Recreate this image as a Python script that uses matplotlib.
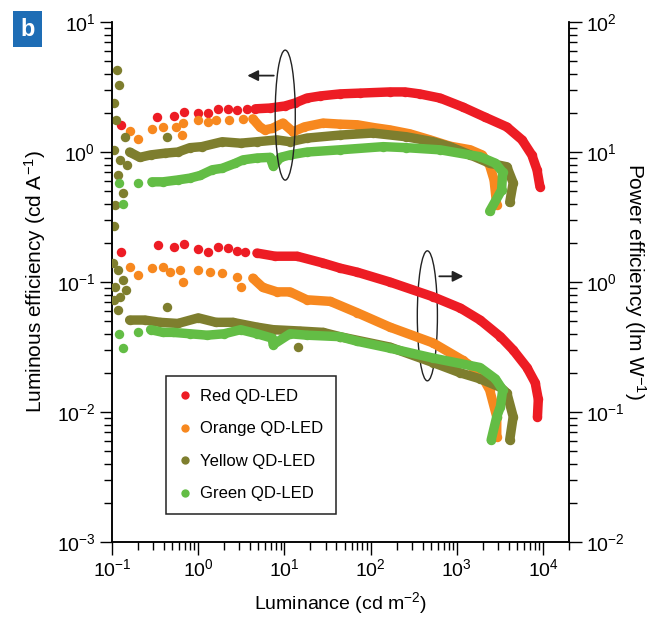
import matplotlib
matplotlib.use("Agg")
import matplotlib.pyplot as plt
from matplotlib.lines import Line2D
from matplotlib.patches import Ellipse, FancyBboxPatch

plt.rcParams["font.family"] = ["Liberation Sans", "DejaVu Sans"]
plt.rcParams["mathtext.fontset"] = "custom"
plt.rcParams["mathtext.rm"] = "Liberation Sans"
plt.rcParams["mathtext.it"] = "Liberation Sans:italic"
plt.rcParams["mathtext.bf"] = "Liberation Sans:bold"

# Luminous efficiency (left axis, cd/A) vs luminance (cd/m2)
red_le_x = [0.127, 0.33, 0.52, 0.69, 1.0, 1.29, 1.7, 2.2, 2.8, 3.7,
            4.6, 6.8, 10.1, 13.2, 18.2, 26, 44, 75, 167, 250, 370, 640,
            1170, 2100, 3800, 5700, 7400, 8500, 9200]
red_le_y = [1.62, 1.86, 1.89, 2.03, 1.99, 1.99, 2.15, 2.15, 2.1, 2.15,
            2.15, 2.18, 2.26, 2.38, 2.60, 2.70, 2.80, 2.84, 2.9, 2.9, 2.8, 2.6,
            2.22, 1.86, 1.56, 1.24, 0.95, 0.73, 0.54]

orange_le_x = [0.16, 0.2, 0.29, 0.39, 0.55, 0.65, 0.66, 1.0, 1.3, 1.6, 2.3, 3.3,
               4.3, 5.2, 5.9, 7.2, 9.6, 12.6, 17, 28, 44, 70, 110, 167, 285, 490,
               830, 1430, 1960, 2400, 2700, 2900]
orange_le_y = [1.45, 1.25, 1.5, 1.56, 1.56, 1.35, 1.67, 1.76, 1.71, 1.76, 1.76, 1.8,
               1.8, 1.56, 1.48, 1.52, 1.67, 1.43, 1.56, 1.67, 1.64, 1.62, 1.54, 1.48, 1.38, 1.24,
               1.11, 1.04, 0.95, 0.79, 0.61, 0.39]

yellow_le_x = [0.114, 0.12, 0.105, 0.11, 0.14, 0.105, 0.124, 0.15, 0.117, 0.134, 0.108, 0.105,
               0.16, 0.21, 0.28, 0.41, 0.58, 0.8, 1.1, 1.9, 3.1,
               4.8, 8.2, 11.6, 18.2, 44, 106, 260, 530, 830, 1430, 2400, 3800, 4500, 4100]
yellow_le_y = [4.3, 3.3, 2.4, 1.76, 1.3, 1.04, 0.87, 0.8, 0.66, 0.48, 0.39, 0.27,
               1.0, 0.91, 0.95, 0.98, 1.0, 1.08, 1.1, 1.2, 1.17,
               1.2, 1.24, 1.2, 1.28, 1.35, 1.4, 1.31, 1.2, 1.1, 0.95, 0.82, 0.77, 0.58, 0.41]
yellow_le_out_x = [0.43]
yellow_le_out_y = [1.3]

green_le_x = [0.12, 0.134, 0.2, 0.29, 0.39, 0.58, 0.8, 1.05, 1.45, 1.9, 2.7, 3.3,
              4.8, 6.8, 7.4, 9.0, 11.6, 18.2, 44, 140, 260, 640, 1860, 2800, 3400, 3300, 2400]
green_le_y = [0.58, 0.40, 0.58, 0.59, 0.59, 0.61, 0.63, 0.66, 0.73, 0.75, 0.82, 0.87,
              0.9, 0.91, 0.78, 0.91, 0.95, 1.0, 1.04, 1.1, 1.08, 1.04, 0.92, 0.82, 0.70, 0.51, 0.35]

# Power efficiency (right axis, lm/W) vs luminance (cd/m2)
red_pe_x = [0.127, 0.34, 0.52, 0.69, 1.0, 1.3, 1.7, 2.2, 2.8, 3.5,
            4.8, 7.8, 14, 28, 44, 70, 167, 530, 1100, 1860, 3200, 4500, 6500, 8100, 8800, 8600]
red_pe_y = [1.70, 1.94, 1.86, 1.96, 1.80, 1.70, 1.86, 1.83, 1.73, 1.70,
            1.67, 1.58, 1.58, 1.40, 1.28, 1.19, 1.0, 0.77, 0.63, 0.51, 0.38, 0.30, 0.22, 0.168, 0.125, 0.092]

orange_pe_x = [0.16, 0.2, 0.29, 0.39, 0.47, 0.62, 0.66, 1.0, 1.37, 1.9, 2.8, 3.1,
               4.3, 5.6, 8.2, 11.6, 18.2, 34, 70, 167, 530, 1170, 1860, 2400, 2900, 2900]
orange_pe_y = [1.30, 1.14, 1.28, 1.30, 1.19, 1.24, 1.0, 1.24, 1.19, 1.17, 1.09, 0.91,
               1.07, 0.91, 0.84, 0.84, 0.73, 0.71, 0.58, 0.45, 0.34, 0.25, 0.20, 0.148, 0.092, 0.064]

yellow_pe_x = [0.103, 0.117, 0.108, 0.134, 0.124, 0.117, 0.105, 0.145,
               0.16, 0.24, 0.36, 0.58, 1.0, 1.6, 2.5,
               4.8, 7.4, 15, 28, 44, 167, 530, 1100, 1860, 3200, 3800, 4500, 4100]
yellow_pe_y = [1.40, 1.24, 0.91, 1.04, 0.77, 0.61, 0.73, 0.87,
               0.51, 0.51, 0.49, 0.48, 0.53, 0.49, 0.49,
               0.45, 0.43, 0.42, 0.41, 0.38, 0.316, 0.24, 0.20, 0.18, 0.155, 0.14, 0.092, 0.061]
yellow_pe_out_x = [0.43, 14.5]
yellow_pe_out_y = [0.64, 0.316]

green_pe_x = [0.12, 0.134, 0.2, 0.28, 0.39, 0.51, 0.8, 1.27, 2.0, 3.1,
              4.8, 7.2, 7.4, 11.6, 18.2, 44, 70, 167, 530, 1860, 2800, 3400, 3200, 2900, 2500]
green_pe_y = [0.40, 0.31, 0.41, 0.43, 0.41, 0.41, 0.40, 0.39, 0.40, 0.43,
              0.40, 0.37, 0.33, 0.40, 0.39, 0.38, 0.35, 0.31, 0.26, 0.22, 0.18, 0.148, 0.11, 0.092, 0.061]

labels = ["Red QD-LED", "Orange QD-LED", "Yellow QD-LED", "Green QD-LED"]
colors = ["#ED1C24", "#F7881F", "#7E7E2E", "#63BD45"]

# luminance above which the measured points merge into a continuous band
band_from = [4.0, 4.0, 0.155, 0.25]

fig = plt.figure(figsize=(6.49, 6.28), dpi=100)
ax = fig.add_axes([0.1726, 0.1369, 0.7042, 0.828])
ax2 = ax.twinx()


def draw(axis, xs, ys, color, start):
    axis.plot(xs, ys, "o", color=color, ms=6.8, mec="none", zorder=3)
    band = [(x, y) for x, y in zip(xs, ys) if x >= start]
    axis.plot([b[0] for b in band], [b[1] for b in band], "-", color=color,
              lw=6.8, solid_capstyle="round", solid_joinstyle="round", zorder=3)


le_sets = [(red_le_x, red_le_y), (orange_le_x, orange_le_y),
           (yellow_le_x, yellow_le_y), (green_le_x, green_le_y)]
pe_sets = [(red_pe_x, red_pe_y), (orange_pe_x, orange_pe_y),
           (yellow_pe_x, yellow_pe_y), (green_pe_x, green_pe_y)]
for i, ((xs, ys), c) in enumerate(zip(le_sets, colors)):
    draw(ax, xs, ys, c, band_from[i])
    if i == 2:
        ax.plot(yellow_le_out_x, yellow_le_out_y, "o", color=c, ms=6.8, mec="none", zorder=3)
for i, ((xs, ys), c) in enumerate(zip(pe_sets, colors)):
    draw(ax2, xs, ys, c, band_from[i])
    if i == 2:
        ax2.plot(yellow_pe_out_x, yellow_pe_out_y, "o", color=c, ms=6.8, mec="none", zorder=3)

for a in (ax, ax2):
    a.set_xscale("log")
    a.set_yscale("log")
    a.set_xlim(0.1, 2.0e4)
    a.spines["top"].set_visible(False)
ax.set_ylim(1e-3, 1e1)
ax2.set_ylim(1e-2, 1e2)

ax.tick_params(axis="both", which="major", direction="out", length=9, width=1,
               labelsize=14, pad=3)
ax.tick_params(axis="both", which="minor", direction="out", length=5.5, width=1)
ax2.tick_params(axis="y", which="major", direction="out", length=9, width=1,
                labelsize=14, pad=3)
ax2.tick_params(axis="y", which="minor", direction="out", length=5.5, width=1)
for a in (ax, ax2):
    for s in a.spines.values():
        s.set_linewidth(1.1)

ax.set_xlabel(r"Luminance (cd m$^{-2}$)", fontsize=14, labelpad=7)
ax.set_ylabel(r"Luminous efficiency (cd A$^{-1}$)", fontsize=15, labelpad=6)
ax2.set_ylabel(r"Power efficiency (lm W$^{-1}$)", fontsize=15, rotation=270,
               labelpad=17)

# ellipses marking which axis each group belongs to
for cx, cy in [(0.379, 0.821), (0.69, 0.435)]:
    ax.add_patch(Ellipse((cx, cy), 0.044, 0.25, transform=ax.transAxes,
                         fill=False, ec="#222222", lw=1.0, zorder=4))
ax.annotate("", xy=(0.29, 0.897), xytext=(0.36, 0.897), xycoords="axes fraction",
            arrowprops=dict(arrowstyle="-|>", color="#222222", lw=1.3,
                            mutation_scale=16))
ax.annotate("", xy=(0.775, 0.511), xytext=(0.71, 0.511), xycoords="axes fraction",
            arrowprops=dict(arrowstyle="-|>", color="#222222", lw=1.3,
                            mutation_scale=16))

handles = [Line2D([], [], ls="none", marker="o", ms=6, mec="none", color=c)
           for c in colors]
leg = ax.legend(handles, labels, loc="lower left", bbox_to_anchor=(0.118, 0.054),
                borderaxespad=0, fontsize=12, frameon=True, fancybox=False,
                edgecolor="#222222", framealpha=1, handlelength=0.8,
                handletextpad=0.5, labelspacing=1.05, borderpad=0.75)
leg.get_frame().set_linewidth(1.1)
leg.set_zorder(5)

# panel label
fig.patches.append(FancyBboxPatch((13 / 649, 1 - 47 / 628), 29 / 649, 36 / 628,
                                  boxstyle="square,pad=0", transform=fig.transFigure,
                                  fc="#1E6DB5", ec="none"))
fig.text(27.5 / 649, 1 - 29 / 628, "b", color="white", fontsize=17,
         fontweight="bold", ha="center", va="center")

fig.savefig("out.png", dpi=100)
